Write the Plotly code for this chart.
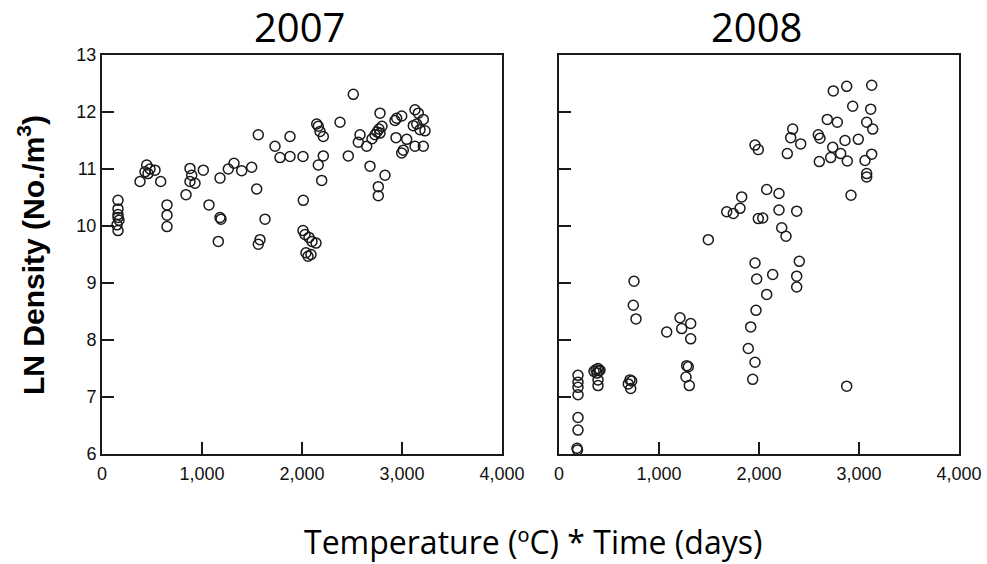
import plotly.graph_objects as go

# ---- 2007 data (Temperature*Time, LN density) ----
x2007 = [160, 160, 160, 160, 170, 150, 160,
         447, 460, 430, 530, 380, 587, 480,
         650, 650, 650,
         840, 880, 880, 930, 1013, 897,
         1070, 1180, 1180, 1190, 1163, 1263, 1320, 1397, 1497, 1547, 1563, 1630, 1580, 1563,
         1730, 1780, 1880, 1880, 2010, 2013,
         2010, 2030, 2070, 2100, 2140, 2040, 2090, 2060,
         2163, 2147, 2180, 2213, 2163, 2213, 2197,
         2380, 2513, 2463, 2580, 2563, 2647, 2680,
         2700, 2730, 2750, 2770, 2800, 2780, 2780,
         2830, 2763, 2763,
         2947, 2997, 2930, 2940, 3047, 3013, 2997, 3130, 3213,
         3130, 3163, 3213, 3113, 3180, 3230, 3147]
y2007 = [10.45, 10.3, 10.2, 10.15, 10.1, 10.02, 9.92,
         11.07, 10.92, 10.95, 10.98, 10.78, 10.78, 11.0,
         10.37, 10.19, 9.99,
         10.55, 10.78, 11.01, 10.75, 10.98, 10.89,
         10.37, 10.84, 10.15, 10.12, 9.73, 11.0, 11.1, 10.97, 11.03, 10.65, 11.6, 10.12, 9.76, 9.68,
         11.4, 11.2, 11.22, 11.57, 11.22, 10.45,
         9.92, 9.85, 9.8, 9.73, 9.7, 9.53, 9.5, 9.47,
         11.75, 11.79, 11.66, 11.57, 11.07, 11.23, 10.8,
         11.82, 12.31, 11.23, 11.6, 11.47, 11.4, 11.05,
         11.53, 11.6, 11.65, 11.7, 11.75, 11.63, 11.98,
         10.89, 10.69, 10.53,
         11.89, 11.93, 11.85, 11.55, 11.52, 11.33, 11.28, 11.4, 11.4,
         12.04, 11.98, 11.87, 11.76, 11.69, 11.67, 11.79]

# ---- 2008 data ----
x2008 = [1960, 1993, 1827, 1810, 1743, 1677, 1993, 1493, 1960,
         2743, 2877, 3127, 2937, 3117, 2683, 2783, 3077, 3137,
         2337, 2317, 2417, 2283, 2593, 2610, 2860, 2737, 2993,
         2603, 2717, 2817, 2883, 3060, 3127, 3077, 3077, 2920,
         2077, 2200, 2200, 2377, 2037, 2227, 2270, 2403,
         2137, 1977, 2377, 2377, 2077, 1970, 1917, 1893, 1960, 1937, 2877,
         750, 743, 770, 1077, 1210, 1227, 1317, 1317, 1277, 1293, 1270, 1303,
         710, 727, 693, 717,
         370, 390, 400, 350, 410, 380, 390, 390,
         190, 190, 190, 190, 190, 190, 180, 185]
y2008 = [11.42, 11.34, 10.51, 10.31, 10.22, 10.25, 10.13, 9.76, 9.35,
         12.37, 12.45, 12.47, 12.1, 12.05, 11.87, 11.82, 11.82, 11.7,
         11.7, 11.55, 11.44, 11.27, 11.6, 11.54, 11.5, 11.38, 11.52,
         11.13, 11.2, 11.27, 11.14, 11.15, 11.26, 10.92, 10.86, 10.54,
         10.64, 10.57, 10.28, 10.26, 10.14, 9.97, 9.82, 9.38,
         9.15, 9.07, 9.12, 8.93, 8.8, 8.52, 8.23, 7.85, 7.61, 7.31, 7.19,
         9.03, 8.61, 8.37, 8.14, 8.39, 8.2, 8.29, 8.02, 7.55, 7.53, 7.35, 7.2,
         7.3, 7.28, 7.23, 7.15,
         7.48, 7.5, 7.46, 7.45, 7.47, 7.42, 7.3, 7.2,
         7.38, 7.26, 7.17, 7.04, 6.64, 6.42, 6.1, 6.07]

titles = ["2007", "2008"]
x_ticks = [0, 1000, 2000, 3000, 4000]
x_ticklabels = ["0", "1,000", "2,000", "3,000", "4,000"]
y_ticks = [6, 7, 8, 9, 10, 11, 12, 13]

W, H = 987, 564
ink = "#1a1a1a"

marker = dict(symbol="circle-open", size=10, color=ink, line=dict(width=1.5, color=ink))

fig = go.Figure()
fig.add_trace(go.Scatter(x=x2007, y=y2007, mode="markers", marker=marker,
                         xaxis="x", yaxis="y", showlegend=False))
fig.add_trace(go.Scatter(x=x2008, y=y2008, mode="markers", marker=marker,
                         xaxis="x2", yaxis="y2", showlegend=False))

ydom = [(H - 454) / H, (H - 55) / H]
tickfont = dict(family="Liberation Sans, Arial", size=18, color="#111")

common_x = dict(range=[0, 4000], tickvals=x_ticks, ticktext=x_ticklabels,
                ticks="inside", ticklen=12, tickwidth=2, tickcolor=ink,
                showline=True, linewidth=2, linecolor=ink, mirror=True,
                showgrid=False, zeroline=False, tickfont=tickfont,
                automargin=False, ticklabelstandoff=2)
common_y = dict(range=[6, 13], tickvals=y_ticks, domain=ydom,
                ticks="inside", ticklen=12, tickwidth=2, tickcolor=ink,
                showline=True, linewidth=2, linecolor=ink, mirror=True,
                showgrid=False, zeroline=False, tickfont=tickfont,
                automargin=False)

fig.update_layout(
    width=W, height=H, autosize=False,
    margin=dict(l=0, r=0, t=0, b=0, pad=0, autoexpand=False),
    paper_bgcolor="white", plot_bgcolor="white",
    xaxis=dict(domain=[102 / W, 502 / W], anchor="y", **common_x),
    yaxis=dict(anchor="x", showticklabels=True, **common_y),
    xaxis2=dict(domain=[559 / W, 959 / W], anchor="y2", **common_x),
    yaxis2=dict(anchor="x2", showticklabels=False, **common_y),
)

annots = [
    dict(text=titles[0], x=299 / W, y=1 - 26 / H, xref="paper", yref="paper",
         showarrow=False, font=dict(family="Open Sans", size=40, color="black"),
         xanchor="center", yanchor="middle"),
    dict(text=titles[1], x=756 / W, y=1 - 26 / H, xref="paper", yref="paper",
         showarrow=False, font=dict(family="Open Sans", size=40, color="black"),
         xanchor="center", yanchor="middle"),
    dict(text="<b>LN Density (No./m<sup>3</sup>)</b>", x=31 / W, y=1 - 255 / H,
         xref="paper", yref="paper", showarrow=False, textangle=-90,
         font=dict(family="Liberation Sans, Arial", size=30, color="black"),
         xanchor="center", yanchor="middle"),
    dict(text="Temperature (ºC) * Time (days)", x=533 / W, y=1 - 541 / H,
         xref="paper", yref="paper", showarrow=False,
         font=dict(family="Open Sans", size=32, color="black"),
         xanchor="center", yanchor="middle"),
]
fig.update_layout(annotations=annots)
fig.write_html("out.html")
